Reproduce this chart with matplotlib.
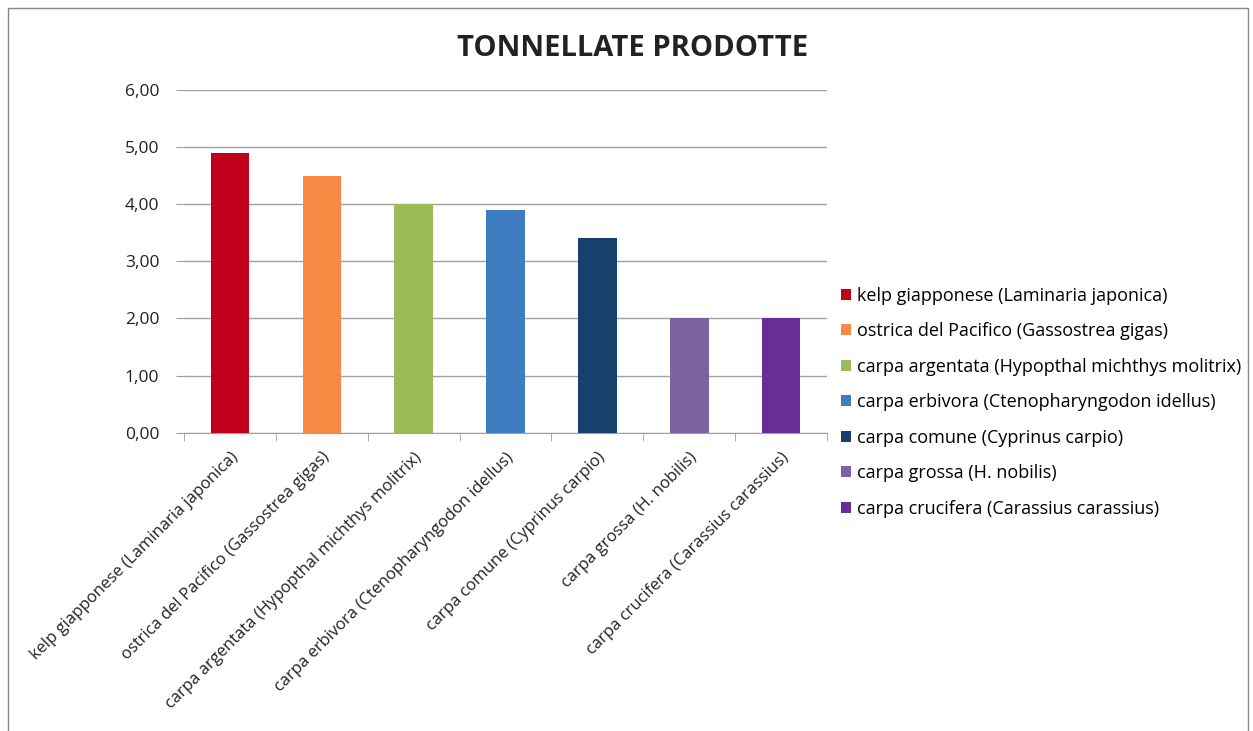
import numpy as np
import matplotlib
matplotlib.use("Agg")
from matplotlib import pyplot as plt
from matplotlib.patches import Rectangle
from matplotlib.ticker import FuncFormatter

plt.rcParams['font.family'] = ['Open Sans', 'DejaVu Sans']

specie = ["kelp giapponese (Laminaria japonica)",
          "ostrica del Pacifico (Gassostrea gigas)",
          "carpa argentata (Hypopthal michthys molitrix)",
          "carpa erbivora (Ctenopharyngodon idellus)",
          "carpa comune (Cyprinus carpio)",
          "carpa grossa (H. nobilis)",
          "carpa crucifera (Carassius carassius)"]
tonnellate = [4.9, 4.5, 4.0, 3.9, 3.4, 2.0, 2.0]
colori = ["#C0001A", "#F88A43", "#9BBB59", "#3E7DBF", "#17406E", "#7C62A0", "#6A2C96"]

fig = plt.figure(figsize=(12.53, 7.31), dpi=100)
ax = fig.add_axes([0.147, 0.408, 0.513, 0.469])

x = np.arange(len(specie))
bars = ax.bar(x, tonnellate, width=0.42, color=colori, zorder=3)

ax.set_ylim(0, 6)
ax.set_xlim(-0.5, len(specie) - 0.5)
ax.set_yticks(np.arange(0, 7, 1))
ax.yaxis.set_major_formatter(FuncFormatter(lambda v, p: ('%.2f' % v).replace('.', ',')))
ax.grid(axis='y', color='#a0a0a0', linewidth=1, zorder=0)
for s in ['top', 'right', 'left']:
    ax.spines[s].set_visible(False)
ax.spines['bottom'].set_color('#a0a0a0')
ax.tick_params(axis='y', length=6, color='#a0a0a0', labelsize=12.5, pad=12, labelcolor='#222222')

ax.set_xticks(x)
ax.set_xticklabels(specie, rotation=45, ha='right', rotation_mode='anchor',
                   fontsize=12, color='#222222')
ax.tick_params(axis='x', length=0, pad=12)
ax.set_xticks(np.arange(-0.5, len(specie), 1), minor=True)
ax.tick_params(axis='x', which='minor', length=6, color='#a0a0a0')

fig.text(0.505, 0.934, "TONNELLATE PRODOTTE", ha='center', va='center',
         fontsize=21, fontweight='bold', color='#222222')

ax.legend(bars, specie, loc='upper left', bbox_to_anchor=(1.01, 0.447),
          frameon=False, fontsize=13, handlelength=0.55, handleheight=0.55,
          handletextpad=0.35, labelspacing=0.97, borderaxespad=0)

fig.patches.append(Rectangle((0.006, -0.01), 0.99, 0.999, transform=fig.transFigure,
                             fill=False, edgecolor='#888888', linewidth=1))

fig.savefig("out.png", dpi=100)
